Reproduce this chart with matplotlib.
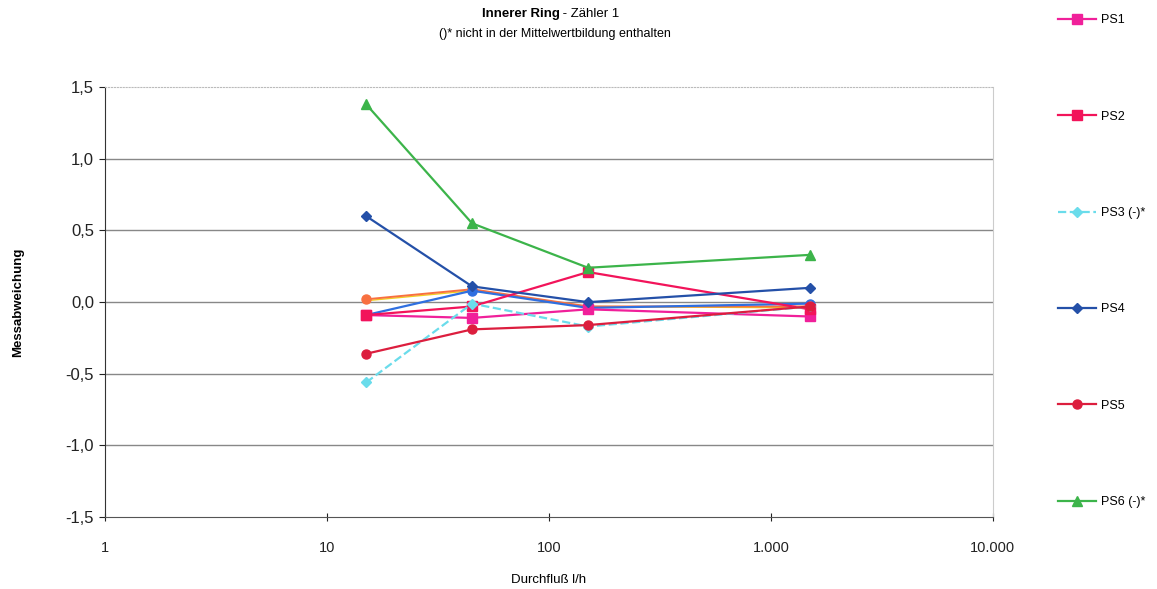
import matplotlib
matplotlib.use("Agg")
import matplotlib.pyplot as plt
from matplotlib.ticker import FixedLocator, FuncFormatter

plt.rcParams['font.family'] = ['Liberation Sans', 'DejaVu Sans']

flow = [15, 45, 150, 1500]
ps1 = [-0.09, -0.11, -0.05, -0.10]
ps2 = [-0.09, -0.03, 0.21, -0.05]
ps3 = [-0.56, -0.01, -0.17, -0.03]
ps4 = [0.60, 0.11, 0.00, 0.10]
ps5 = [-0.36, -0.19, -0.16, -0.03]
ps6 = [1.38, 0.55, 0.24, 0.33]
extra_orange = [0.02, 0.09, -0.03, -0.03]
extra_yellow = [0.01, 0.08, -0.03, -0.04]
extra_blue = [-0.09, 0.08, -0.04, -0.01]

x_ticks = [1, 10, 100, 1000, 10000]
x_ticklabels = ["1", "10", "100", "1.000", "10.000"]
y_ticks = [-1.5, -1.0, -0.5, 0.0, 0.5, 1.0, 1.5]

fig = plt.figure(figsize=(11.57, 5.89), dpi=100)
ax = fig.add_axes([0.091, 0.122, 0.767, 0.730])

ax.plot(flow, extra_yellow, color='#F0D020', lw=1.0, zorder=2)
ax.plot(flow, extra_orange, color='#F87040', lw=1.4, marker='o', ms=6.5, zorder=3)
ax.plot(flow, extra_blue, color='#2F6FE0', lw=1.6, marker='o', ms=6.5, zorder=3)

series = [
    ("PS1", ps1, '#F0209A', 's', '-'),
    ("PS2", ps2, '#F2145A', 's', '-'),
    ("PS3 (-)*", ps3, '#6ADCEB', 'D', '--'),
    ("PS4", ps4, '#2450A8', 'D', '-'),
    ("PS5", ps5, '#DC1E3E', 'o', '-'),
    ("PS6 (-)*", ps6, '#3CB44A', '^', '-'),
]
for lab, vals, col, mk, ls in series:
    ms = 5.5 if mk == 'D' else 6.5
    ax.plot(flow, vals, color=col, lw=1.6, ls=ls, marker=mk, ms=ms, label=lab, zorder=4)

ax.set_xscale('log')
ax.set_xlim(1, 10000)
ax.set_ylim(-1.5, 1.5)
ax.xaxis.set_major_locator(FixedLocator(x_ticks))
ax.xaxis.set_minor_locator(FixedLocator([]))
ax.set_xticklabels(x_ticklabels)
ax.set_yticks(y_ticks)
ax.yaxis.set_major_formatter(FuncFormatter(lambda v, p: f"{v:.1f}".replace('.', ',')))

for y in [-1.0, -0.5, 0.0, 0.5, 1.0]:
    ax.axhline(y, color='#888888', lw=1.0, zorder=1)

ax.spines['top'].set_color('#BBBBBB')
ax.spines['top'].set_linestyle(':')
ax.spines['right'].set_color('#CCCCCC')
ax.spines['right'].set_linewidth(0.8)
ax.spines['left'].set_color('#333333')
ax.spines['bottom'].set_color('#555555')

ax.tick_params(axis='x', direction='inout', length=6, pad=14, labelsize=10.5, colors='#222222')
ax.tick_params(axis='y', direction='out', length=4, pad=4, labelsize=12, colors='#222222')

ax.set_xlabel("Durchfluß l/h", fontsize=9.5, labelpad=14)
ax.set_ylabel("Messabweichung", fontsize=9.5, fontweight='bold', labelpad=30)

fig.text(0.4835, 0.977, "Innerer Ring", fontsize=9.5, fontweight='bold', ha='right', va='center')
fig.text(0.4835, 0.977, " - Zähler 1", fontsize=9.5, ha='left', va='center')
fig.text(0.48, 0.943, "()* nicht in der Mittelwertbildung enthalten", fontsize=9, ha='center', va='center')

leg = fig.legend(loc='upper left', bbox_to_anchor=(0.905, 0.995), frameon=False,
                 fontsize=9, labelspacing=6.75, handlelength=3.0, handletextpad=0.4)

fig.savefig("out.png", dpi=100)
